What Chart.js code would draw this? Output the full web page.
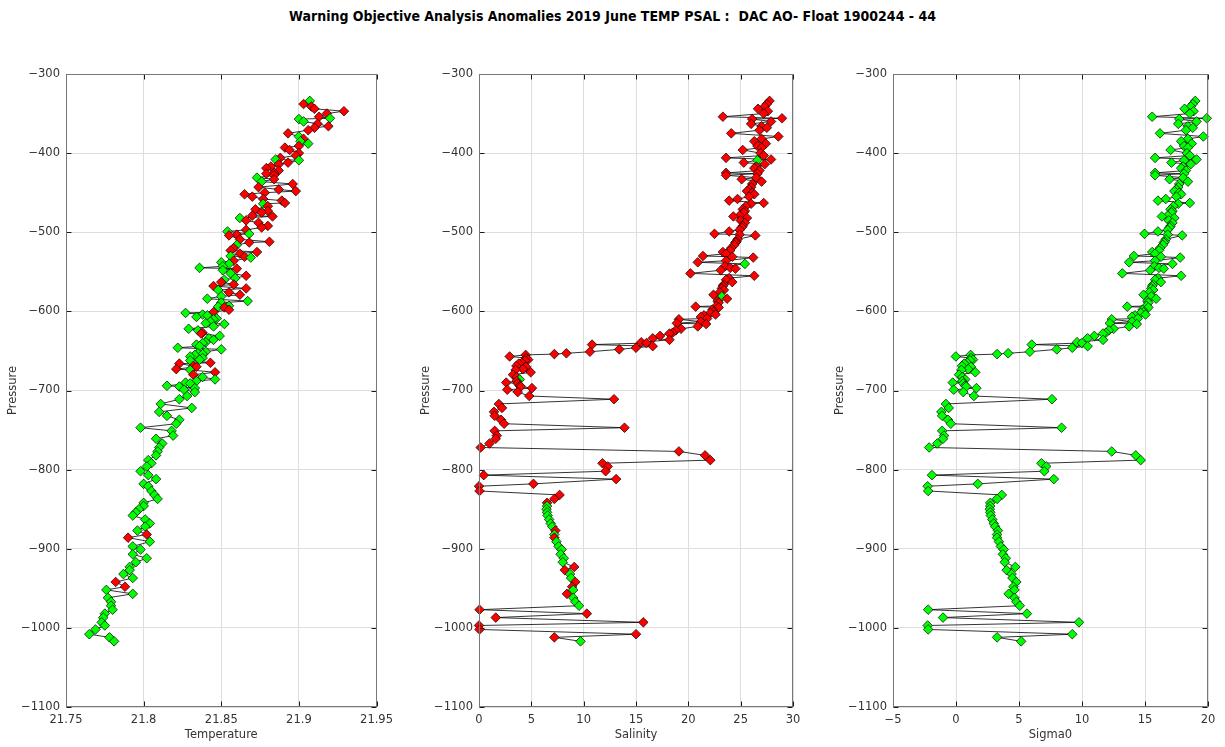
<!DOCTYPE html>
<html>
<head>
<meta charset="utf-8">
<title>Float 1900244 - 44</title>
<script src="https://cdn.jsdelivr.net/npm/chart.js@4/dist/chart.umd.min.js"></script>
<style>
  body { margin: 0; background: #fff; width: 1225px; height: 747px; overflow: hidden; position: relative; }
  #title { position: absolute; top: 8px; left: 0; width: 1225px; text-align: center;
           font: bold 14px "DejaVu Sans Condensed", "DejaVu Sans", sans-serif; color: #000; white-space: pre; }
  .panel { position: absolute; top: 0; }
  .panel canvas { display: block; }
</style>
</head>
<body>
<div id="title">Warning Objective Analysis Anomalies 2019 June TEMP PSAL :  DAC AO- Float 1900244 - 44</div>
<div class="panel" style="left:0px"><canvas id="tempChart" width="399" height="747"></canvas></div>
<div class="panel" style="left:413px"><canvas id="psalChart" width="400" height="747"></canvas></div>
<div class="panel" style="left:827px"><canvas id="sigmaChart" width="396" height="747"></canvas></div>
<script>
"use strict";

// profile levels (negative pressure, dbar)
const pres = [
  -334, -338, -341, -344, -347, -350, -354, -356, -357, -360,
  -363, -366, -368, -371, -375, -379, -382, -385, -388, -391,
  -393, -396, -400, -403, -406, -408, -409, -412, -414, -417,
  -419, -422, -425, -426, -428, -431, -433, -436, -439, -443,
  -446, -448, -450, -452, -455, -458, -460, -463, -464, -467,
  -471, -473, -475, -479, -480, -482, -485, -488, -492, -494,
  -497, -499, -502, -503, -504, -509, -512, -513, -516, -520,
  -523, -525, -527, -530, -531, -532, -536, -538, -540, -543,
  -545, -546, -548, -552, -555, -558, -560, -563, -566, -568,
  -571, -573, -576, -579, -581, -584, -587, -589, -593, -594,
  -595, -598, -601, -602, -604, -605, -607, -609, -610, -613,
  -615, -616, -619, -622, -624, -627, -628, -631, -634, -636,
  -639, -640, -642, -644, -646, -648, -651, -653, -654, -655,
  -657, -659, -661, -662, -665, -666, -669, -670, -673, -674,
  -677, -680, -683, -686, -688, -690, -691, -694, -695, -697,
  -699, -702, -707, -711, -717, -722, -727, -732, -737, -742,
  -747, -751, -757, -761, -767, -772, -777, -782, -788, -792,
  -796, -802, -807, -812, -818, -821, -827, -832, -837, -842,
  -846, -850, -854, -858, -863, -868, -872, -877, -882, -886,
  -891, -897, -901, -907, -912, -917, -923, -927, -932, -937,
  -942, -948, -952, -957, -962, -967, -972, -977, -982, -987,
  -993, -997, -1002, -1008, -1012, -1017
];

const temp = [
  21.907, 21.903, 21.908, 21.910, 21.929, 21.918, 21.913, 21.920, 21.900, 21.903,
  21.912, 21.919, 21.910, 21.906, 21.893, 21.900, 21.903, 21.901, 21.906, 21.900,
  21.891, 21.894, 21.900, 21.898, 21.888, 21.885, 21.900, 21.893, 21.887, 21.882,
  21.879, 21.887, 21.884, 21.879, 21.884, 21.873, 21.884, 21.876, 21.896, 21.874,
  21.887, 21.898, 21.878, 21.865, 21.870, 21.877, 21.889, 21.891, 21.877, 21.880,
  21.872, 21.880, 21.876, 21.870, 21.883, 21.862, 21.866, 21.874, 21.880, 21.876,
  21.866, 21.854, 21.868, 21.860, 21.855, 21.862, 21.881, 21.868, 21.860, 21.858,
  21.856, 21.873, 21.862, 21.856, 21.865, 21.869, 21.858, 21.850, 21.855, 21.851,
  21.836, 21.860, 21.851, 21.856, 21.866, 21.859, 21.852, 21.850, 21.858, 21.845,
  21.866, 21.848, 21.855, 21.862, 21.850, 21.841, 21.867, 21.850, 21.855, 21.848,
  21.852, 21.855, 21.845, 21.827, 21.838, 21.841, 21.834, 21.847, 21.845, 21.843,
  21.840, 21.852, 21.845, 21.829, 21.835, 21.838, 21.837, 21.849, 21.842, 21.845,
  21.840, 21.838, 21.834, 21.836, 21.822, 21.850, 21.840, 21.835, 21.838, 21.833,
  21.830, 21.838, 21.836, 21.830, 21.843, 21.823, 21.832, 21.834, 21.821, 21.830,
  21.846, 21.832, 21.838, 21.846, 21.834, 21.827, 21.830, 21.815, 21.823, 21.833,
  21.826, 21.833, 21.828, 21.823, 21.811, 21.831, 21.810, 21.815, 21.823, 21.821,
  21.798, 21.818, 21.819, 21.808, 21.812, 21.810, 21.809, 21.808, 21.803, 21.805,
  21.802, 21.798, 21.803, 21.808, 21.800, 21.803, 21.805, 21.807, 21.809, 21.800,
  21.800, 21.797, 21.795, 21.793, 21.801, 21.804, 21.801, 21.796, 21.802, 21.790,
  21.804, 21.793, 21.798, 21.793, 21.802, 21.795, 21.791, 21.791, 21.787, 21.793,
  21.782, 21.788, 21.776, 21.793, 21.777, 21.779, 21.779, 21.780, 21.775, 21.774,
  21.773, 21.775, 21.769, 21.765, 21.778, 21.781
];

// 1 = good, 4 = flagged by the check
const tempQc = [
  1, 4, 4, 4, 4, 4, 4, 1, 1, 1,
  4, 4, 4, 4, 4, 1, 4, 1, 1, 4,
  4, 4, 4, 4, 4, 1, 1, 4, 4, 4,
  4, 4, 4, 4, 4, 1, 4, 1, 4, 4,
  4, 4, 4, 4, 4, 4, 4, 4, 1, 4,
  4, 4, 4, 4, 4, 1, 4, 4, 4, 4,
  4, 1, 1, 4, 4, 4, 4, 4, 1, 4,
  4, 4, 4, 1, 4, 1, 4, 1, 1, 1,
  1, 4, 1, 1, 4, 1, 1, 4, 4, 4,
  4, 1, 4, 4, 1, 1, 1, 1, 1, 1,
  4, 4, 4, 1, 1, 1, 1, 1, 1, 1,
  1, 1, 1, 1, 1, 4, 4, 1, 1, 1,
  1, 1, 1, 1, 1, 1, 1, 1, 1, 1,
  1, 1, 1, 1, 4, 4, 4, 4, 4, 1,
  4, 4, 1, 1, 1, 1, 1, 1, 1, 1,
  1, 1, 1, 1, 1, 1, 1, 1, 1, 1,
  1, 1, 1, 1, 1, 1, 1, 1, 1, 1,
  1, 1, 1, 1, 1, 1, 1, 1, 1, 1,
  1, 1, 1, 1, 1, 1, 1, 1, 4, 4,
  1, 1, 1, 1, 1, 1, 1, 1, 1, 1,
  4, 4, 1, 1, 1, 1, 1, 1, 1, 1,
  1, 1, 1, 1, 1, 1
];

const psal = [
  27.76, 27.5, 27.3, 26.66, 27.6, 27.2, 23.3, 28.95, 26.1, 27.9,
  26.0, 27.0, 27.5, 26.8, 24.1, 28.6, 27.0, 26.3, 27.4, 26.6,
  27.0, 25.2, 26.9, 27.2, 23.6, 27.9, 26.6, 25.3, 27.3, 26.5,
  26.3, 26.8, 23.6, 26.6, 23.6, 26.5, 25.1, 27.0, 26.1, 26.0,
  25.8, 25.6, 26.1, 26.3, 25.8, 24.7, 23.9, 27.2, 26.0, 25.5,
  25.2, 25.4, 25.3, 24.9, 24.3, 25.6, 25.0, 25.4, 25.2, 25.1,
  24.9, 23.9, 22.5, 24.9, 26.4, 24.7, 24.6, 24.5, 24.4, 24.1,
  24.0, 23.3, 23.6, 21.4, 24.2, 26.2, 23.6, 20.9, 25.4, 23.5,
  24.0, 24.5, 23.1, 20.2, 26.3, 23.9, 23.6, 24.2, 23.4, 23.3,
  23.2, 23.4, 23.0, 22.4, 23.2, 23.7, 22.8, 22.9, 22.7, 20.7,
  22.9, 22.3, 22.4, 22.1, 22.6, 21.5, 21.2, 21.8, 19.1, 21.2,
  18.9, 21.7, 20.9, 19.3, 18.8, 18.5, 18.2, 17.3, 16.6, 18.2,
  15.5, 16.0, 10.8, 16.6, 15.0, 13.4, 10.6, 8.35, 7.2, 4.46,
  2.93, 4.5, 4.7, 4.4, 4.1, 3.8, 3.57, 4.5, 4.2, 3.5,
  4.94, 3.25, 3.6, 3.9, 3.6, 2.6, 3.7, 3.9, 4.0, 5.06,
  2.7, 3.7, 4.8, 12.9, 1.9, 2.2, 1.43, 1.5, 2.1, 2.4,
  13.9, 1.5, 1.7, 1.6, 1.0, 0.16, 19.1, 21.6, 22.1, 11.8,
  12.3, 12.1, 0.45, 13.1, 5.2, 0.0, 0.05, 7.7, 7.2, 6.5,
  6.5, 6.45, 6.5, 6.55, 6.7, 6.85, 7.0, 7.3, 7.2, 7.2,
  7.4, 7.6, 7.9, 7.8, 8.1, 8.0, 9.1, 8.2, 8.7, 8.8,
  9.2, 8.9, 9.0, 8.4, 9.0, 9.2, 9.56, 0.05, 10.3, 1.6,
  15.7, 0.0, 0.05, 15.0, 7.2, 9.7
];

const psalQc = [
  4, 4, 4, 4, 4, 4, 4, 4, 4, 4,
  4, 4, 4, 4, 4, 4, 4, 4, 4, 4,
  4, 4, 4, 4, 4, 4, 1, 4, 4, 4,
  4, 4, 4, 4, 4, 4, 4, 4, 4, 4,
  4, 4, 4, 4, 4, 4, 4, 4, 4, 4,
  4, 4, 4, 4, 4, 4, 4, 4, 4, 4,
  4, 4, 4, 4, 4, 4, 4, 4, 4, 4,
  4, 4, 4, 4, 4, 4, 4, 4, 1, 4,
  4, 4, 4, 4, 4, 4, 4, 4, 4, 4,
  4, 4, 4, 4, 1, 4, 4, 4, 4, 4,
  4, 4, 4, 4, 4, 4, 4, 4, 4, 4,
  4, 4, 4, 4, 4, 4, 4, 4, 4, 4,
  4, 4, 4, 4, 4, 4, 4, 4, 4, 4,
  4, 4, 4, 4, 4, 4, 4, 4, 4, 4,
  4, 4, 4, 1, 4, 4, 4, 4, 4, 4,
  4, 4, 4, 4, 4, 4, 4, 4, 4, 4,
  4, 4, 4, 4, 4, 4, 4, 4, 4, 4,
  4, 4, 4, 4, 4, 4, 4, 4, 4, 4,
  1, 1, 1, 1, 1, 1, 1, 4, 1, 4,
  1, 1, 1, 1, 1, 1, 4, 4, 1, 1,
  4, 4, 1, 4, 1, 1, 1, 4, 4, 4,
  4, 4, 4, 4, 4, 1
];

const sigma0 = [
  18.99, 18.79, 18.63, 18.14, 18.86, 18.56, 15.57, 19.90, 17.72, 19.09,
  17.64, 18.41, 18.79, 18.25, 16.19, 19.63, 18.41, 17.87, 18.71, 18.10,
  18.41, 17.03, 18.33, 18.56, 15.80, 19.09, 18.10, 17.10, 18.63, 18.02,
  17.87, 18.25, 15.80, 18.10, 15.80, 18.02, 16.95, 18.41, 17.72, 17.64,
  17.49, 17.33, 17.72, 17.87, 17.49, 16.65, 16.03, 18.56, 17.64, 17.26,
  17.03, 17.18, 17.10, 16.80, 16.34, 17.33, 16.88, 17.18, 17.03, 16.95,
  16.80, 16.03, 14.96, 16.80, 17.95, 16.65, 16.57, 16.49, 16.42, 16.19,
  16.11, 15.57, 15.80, 14.12, 16.26, 17.79, 15.80, 13.74, 17.18, 15.73,
  16.11, 16.49, 15.42, 13.20, 17.87, 16.03, 15.80, 16.26, 15.65, 15.57,
  15.50, 15.65, 15.35, 14.89, 15.50, 15.88, 15.19, 15.27, 15.12, 13.59,
  15.27, 14.81, 14.89, 14.66, 15.04, 14.20, 13.97, 14.43, 12.36, 13.97,
  12.21, 14.35, 13.74, 12.51, 12.13, 11.90, 11.67, 10.98, 10.45, 11.67,
  9.61, 9.99, 6.01, 10.45, 9.23, 8.00, 5.86, 4.14, 3.26, 1.16,
  -0.01, 1.19, 1.35, 1.12, 0.89, 0.66, 0.48, 1.19, 0.96, 0.43,
  1.53, 0.24, 0.50, 0.73, 0.50, -0.26, 0.58, 0.73, 0.81, 1.62,
  -0.18, 0.58, 1.42, 7.62, -0.80, -0.57, -1.16, -1.10, -0.64, -0.41,
  8.38, -1.10, -0.95, -1.03, -1.49, -2.13, 12.36, 14.27, 14.66, 6.78,
  7.16, 7.01, -1.91, 7.77, 1.73, -2.25, -2.21, 3.64, 3.26, 2.72,
  2.72, 2.68, 2.72, 2.76, 2.88, 2.99, 3.11, 3.33, 3.26, 3.26,
  3.41, 3.56, 3.79, 3.72, 3.95, 3.87, 4.71, 4.02, 4.41, 4.48,
  4.79, 4.56, 4.64, 4.18, 4.64, 4.79, 5.06, -2.21, 5.63, -1.03,
  9.76, -2.25, -2.21, 9.23, 3.26, 5.17
];

const GOOD = "#00ff00";
const BAD = "#ff0000";
const TEXT = "#333";
const FONT = { family: "'DejaVu Sans', sans-serif", size: 11.5 };

function qcColors(flags) {
    return flags.map((f) => (f == 1 ? GOOD : BAD));
}

function withMinus(v) {
    return String(v).replace("-", "\u2212");
}

// grey box round the plot area plus short inward ticks on all four sides
const boxFrame = {
    id: "boxFrame",
    afterDatasetsDraw(chart) {
        const { ctx, chartArea: a, scales } = chart;
        const l = Math.round(a.left) + 0.5;
        const r = Math.round(a.right) - 0.5;
        const t = Math.round(a.top) + 0.5;
        const b = Math.round(a.bottom) - 0.5;
        ctx.save();
        ctx.lineWidth = 1;
        ctx.strokeStyle = "#1a1a1a";
        ctx.beginPath();
        for (const tick of scales.x.ticks) {
            const px = Math.round(scales.x.getPixelForValue(tick.value)) + 0.5;
            ctx.moveTo(px, b);
            ctx.lineTo(px, b - 5);
            ctx.moveTo(px, t);
            ctx.lineTo(px, t + 5);
        }
        for (const tick of scales.y.ticks) {
            const py = Math.round(scales.y.getPixelForValue(tick.value)) + 0.5;
            ctx.moveTo(l, py);
            ctx.lineTo(l + 5, py);
            ctx.moveTo(r, py);
            ctx.lineTo(r - 5, py);
        }
        ctx.stroke();
        ctx.strokeStyle = "#777";
        ctx.strokeRect(l, t, r - l, b - t);
        ctx.restore();
    }
};

function profileChart(canvasId, values, colors, xTitle, xMin, xMax, xStep, rightPad) {
    return new Chart(document.getElementById(canvasId), {
        type: "scatter",
        data: {
            datasets: [
                {
                    data: pres.map((p, i) => ({ x: values[i], y: p })),
                    showLine: true,
                    borderColor: "#000",
                    borderWidth: 0.8,
                    pointStyle: "rectRot",
                    pointRadius: 4.8,
                    pointHoverRadius: 4.8,
                    pointBackgroundColor: colors,
                    pointBorderColor: "#000",
                    pointBorderWidth: 0.7,
                    clip: false
                }
            ]
        },
        options: {
            responsive: false,
            animation: false,
            layout: { padding: { top: 74, right: rightPad, bottom: 0, left: 0 } },
            plugins: {
                legend: { display: false },
                tooltip: { enabled: false }
            },
            scales: {
                x: {
                    type: "linear",
                    min: xMin,
                    max: xMax,
                    ticks: {
                        stepSize: xStep,
                        color: TEXT,
                        font: FONT,
                        padding: 6,
                        maxRotation: 0,
                        callback: (v) => withMinus(Number(v.toFixed(2)))
                    },
                    grid: { color: "#dedede", drawTicks: false },
                    border: { display: false },
                    title: { display: true, text: xTitle, color: TEXT, font: FONT, padding: { top: 0, bottom: 5 } },
                    afterFit: (s) => { s.height = 40; }
                },
                y: {
                    type: "linear",
                    min: -1100,
                    max: -300,
                    ticks: {
                        stepSize: 100,
                        color: TEXT,
                        font: FONT,
                        padding: 6,
                        callback: (v) => withMinus(v)
                    },
                    grid: { color: "#dedede", drawTicks: false },
                    border: { display: false },
                    title: { display: true, text: "Pressure", color: TEXT, font: FONT, padding: { top: 6, bottom: 0 } },
                    afterFit: (s) => { s.width = 66; }
                }
            }
        },
        plugins: [boxFrame]
    });
}

profileChart("tempChart", temp, qcColors(tempQc), "Temperature", 21.75, 21.95, 0.05, 20);
profileChart("psalChart", psal, qcColors(psalQc), "Salinity", 0, 30, 5, 20);
profileChart("sigmaChart", sigma0, sigma0.map(() => GOOD), "Sigma0", -5, 20, 5, 15);
</script>
</body>
</html>
